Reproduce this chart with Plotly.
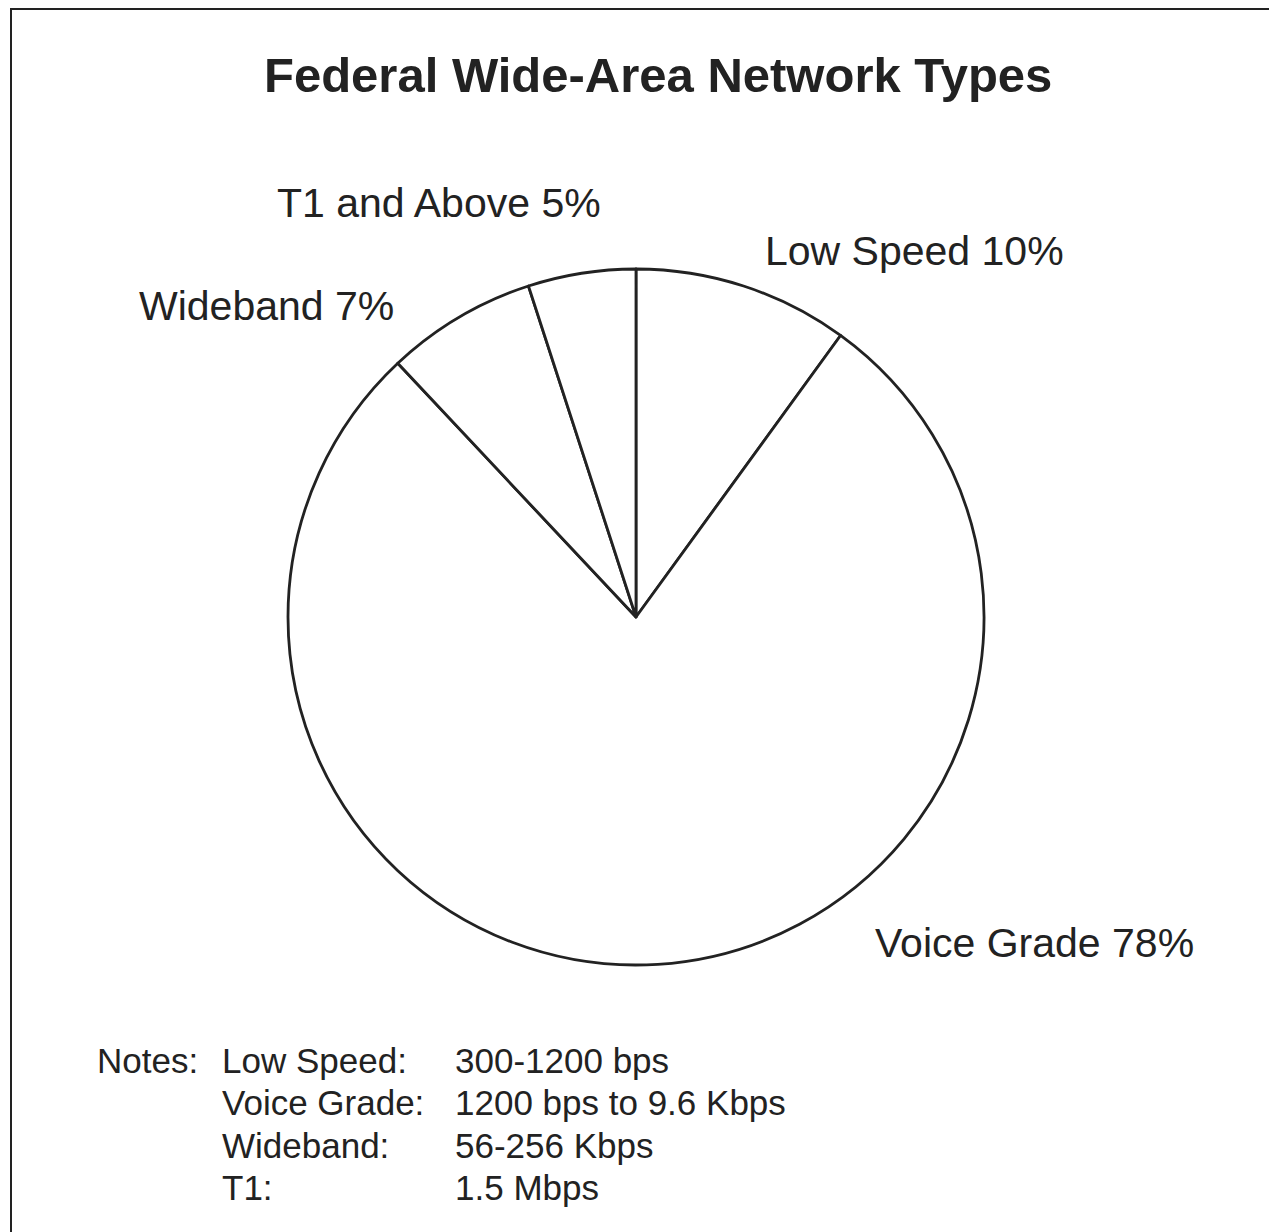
import plotly.graph_objects as go

W, H = 1277, 1232
OFF = 8  # page body offset in the browser

labels = ["Low Speed", "Voice Grade", "Wideband", "T1 and Above"]
values = [10, 78, 7, 5]

note_names = ["Low Speed:", "Voice Grade:", "Wideband:", "T1:"]
note_values = ["300-1200 bps", "1200 bps to 9.6 Kbps", "56-256 Kbps", "1.5 Mbps"]

FONT = "Liberation Sans, Arial, Helvetica, sans-serif"

def px(x):
    return (x - OFF) / W

def py(y):
    return 1 - (y - OFF) / H

fig = go.Figure()
fig.add_trace(go.Pie(
    labels=labels, values=values, sort=False, direction="clockwise", rotation=0,
    textinfo="none", hoverinfo="label+percent", showlegend=False,
    marker=dict(colors=["white"] * 4, line=dict(color="#222222", width=2.8)),
    domain=dict(x=[px(288), px(984)], y=[py(965), py(269)]),
))

label_pos = {
    "Low Speed": (763, 251),
    "Voice Grade": (873, 943),
    "Wideband": (137, 306),
    "T1 and Above": (275, 203),
}
annotations = []
for lab, v in zip(labels, values):
    x, y = label_pos[lab]
    annotations.append(dict(
        text=f"{lab} {v}%", x=px(x), y=py(y), xref="paper", yref="paper",
        xanchor="left", yanchor="middle", showarrow=False,
        font=dict(family=FONT, size=41, color="#222222"),
    ))

annotations.append(dict(
    text="<b>Federal Wide-Area Network Types</b>", x=px(658), y=py(75),
    xref="paper", yref="paper", xanchor="center", yanchor="middle", showarrow=False,
    font=dict(family=FONT, size=49, color="#222222"),
))

row_y = [1060, 1102, 1145, 1187]
NS = 35
annotations.append(dict(
    text="Notes:", x=px(95), y=py(row_y[0]), xref="paper", yref="paper",
    xanchor="left", yanchor="middle", showarrow=False,
    font=dict(family=FONT, size=NS, color="#222222"),
))
for i, (n, v) in enumerate(zip(note_names, note_values)):
    annotations.append(dict(
        text=n, x=px(220), y=py(row_y[i]), xref="paper", yref="paper",
        xanchor="left", yanchor="middle", showarrow=False,
        font=dict(family=FONT, size=NS, color="#222222"),
    ))
    annotations.append(dict(
        text=v, x=px(453), y=py(row_y[i]), xref="paper", yref="paper",
        xanchor="left", yanchor="middle", showarrow=False,
        font=dict(family=FONT, size=NS, color="#222222"),
    ))

fig.update_layout(
    width=W, height=H,
    margin=dict(l=0, r=0, t=0, b=0),
    paper_bgcolor="white", plot_bgcolor="white",
    annotations=annotations,
    shapes=[dict(type="rect", xref="paper", yref="paper",
                 x0=px(11), x1=px(1270), y0=py(1245), y1=py(9),
                 line=dict(color="#222222", width=2))],
)

fig.write_html("out.html")
